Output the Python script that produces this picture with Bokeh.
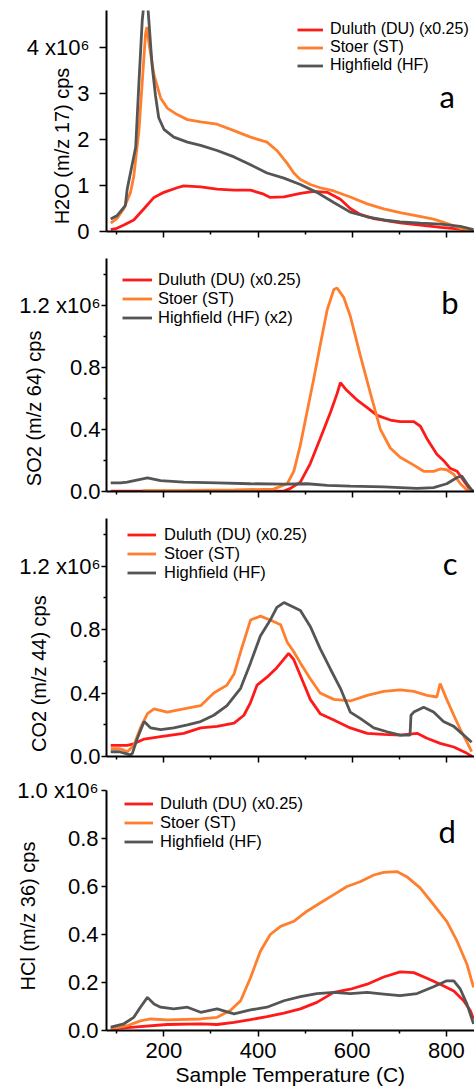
from bokeh.plotting import figure
from bokeh.models import Range1d, FixedTicker, Legend, LegendItem, Label, CustomLabelingPolicy
from bokeh.layouts import column
from bokeh.embed import file_html
from bokeh.resources import INLINE

# ---------------- data (values in units of 1e6 cps) ----------------
x_ticks = [200, 400, 600, 800]
x_minor = [100, 300, 500, 700]
x_labels = ["200", "400", "600", "800"]

names = ["Duluth (DU) (x0.25)", "Stoer (ST)", "Highfield (HF)"]
names_b = ["Duluth (DU) (x0.25)", "Stoer (ST)", "Highfield (HF) (x2)"]

# panel a : H2O
DU_a_T = [87, 100, 115, 136, 158, 179, 200, 228, 242, 278, 313, 349, 384, 412, 426, 455, 490, 518, 547, 575, 596, 617, 646, 702, 745, 788, 830, 851, 858]
DU_a = [0.04, 0.07, 0.14, 0.25, 0.5, 0.74, 0.85, 0.95, 0.99, 0.97, 0.92, 0.9, 0.9, 0.81, 0.74, 0.75, 0.83, 0.87, 0.85, 0.7, 0.5, 0.37, 0.28, 0.19, 0.14, 0.09, 0.05, 0.01, 0.0]
ST_a_T = [87, 100, 115, 129, 136, 147, 154, 161, 164, 168, 179, 193, 207, 228, 250, 278, 313, 349, 384, 419, 440, 462, 476, 490, 511, 532, 561, 596, 632, 667, 702, 738, 773, 801, 830, 858]
ST_a = [0.18, 0.28, 0.5, 0.85, 1.2, 2.2, 3.25, 4.3, 4.44, 4.1, 3.4, 2.9, 2.68, 2.54, 2.43, 2.38, 2.33, 2.19, 2.05, 1.94, 1.76, 1.48, 1.27, 1.13, 1.02, 0.95, 0.88, 0.75, 0.6, 0.49, 0.41, 0.34, 0.27, 0.18, 0.07, 0.0]
HF_a_T = [87, 100, 118, 122, 140, 147, 154, 158, 165, 170, 175, 182, 189, 200, 221, 250, 278, 313, 349, 384, 419, 455, 490, 525, 561, 596, 632, 667, 702, 745, 788, 830, 858]
HF_a = [0.27, 0.34, 0.56, 0.92, 1.83, 3.25, 4.59, 5.0, 5.0, 4.3, 3.6, 2.96, 2.47, 2.22, 2.05, 1.94, 1.87, 1.76, 1.62, 1.45, 1.27, 1.16, 1.02, 0.85, 0.63, 0.42, 0.32, 0.25, 0.21, 0.18, 0.16, 0.11, 0.04]
a_ticks = [0, 1, 2, 3, 4]
a_labels = ["0", "1", "2", "3", "4 x10\u2076"]

# panel b : SO2
DU_b_T = [87, 200, 300, 400, 455, 469, 490, 511, 532, 554, 568, 575, 589, 610, 632, 653, 681, 702, 731, 745, 759, 780, 794, 808, 823, 837, 851, 858]
DU_b = [0.003, 0.003, 0.003, 0.003, 0.003, 0.02, 0.06, 0.18, 0.34, 0.51, 0.63, 0.70, 0.65, 0.59, 0.54, 0.49, 0.46, 0.45, 0.45, 0.42, 0.34, 0.24, 0.20, 0.15, 0.13, 0.07, 0.01, 0.0]
ST_b_T = [155, 250, 350, 433, 462, 476, 490, 504, 518, 532, 547, 561, 568, 582, 596, 617, 639, 660, 681, 702, 731, 752, 773, 787, 801, 816, 830, 844, 858]
ST_b = [0.005, 0.007, 0.01, 0.015, 0.05, 0.13, 0.30, 0.51, 0.72, 0.94, 1.17, 1.30, 1.31, 1.25, 1.13, 0.88, 0.63, 0.40, 0.28, 0.22, 0.17, 0.13, 0.13, 0.145, 0.14, 0.11, 0.05, 0.01, 0.0]
HF_b_T = [87, 108, 122, 165, 193, 242, 313, 384, 455, 504, 547, 596, 667, 738, 773, 801, 823, 833, 844, 854, 860]
HF_b = [0.055, 0.056, 0.06, 0.087, 0.07, 0.06, 0.056, 0.05, 0.048, 0.05, 0.04, 0.035, 0.03, 0.02, 0.025, 0.05, 0.09, 0.10, 0.05, 0.01, 0.0]
b_ticks = [0, 0.4, 0.8, 1.2]
b_minor = [0.2, 0.6, 1.0, 1.4]
b_labels = ["0.0", "0.4", "0.8", "1.2 x10\u2076"]

# panel c : CO2
DU_c_T = [87, 105, 122, 136, 158, 193, 242, 278, 313, 349, 370, 384, 398, 419, 440, 465, 476, 490, 511, 532, 561, 596, 632, 667, 702, 738, 759, 787, 816, 844, 855]
DU_c = [0.07, 0.07, 0.07, 0.08, 0.11, 0.125, 0.146, 0.18, 0.19, 0.21, 0.26, 0.34, 0.45, 0.5, 0.56, 0.65, 0.61, 0.51, 0.36, 0.27, 0.23, 0.18, 0.146, 0.14, 0.135, 0.146, 0.115, 0.083, 0.06, 0.02, 0.0]
ST_c_T = [87, 105, 115, 122, 136, 150, 165, 179, 207, 242, 278, 306, 334, 349, 363, 384, 405, 426, 448, 462, 476, 490, 511, 532, 561, 596, 632, 667, 702, 731, 759, 780, 787, 801, 816, 830, 844, 854]
ST_c = [0.05, 0.05, 0.04, 0.03, 0.07, 0.18, 0.27, 0.30, 0.28, 0.30, 0.32, 0.40, 0.45, 0.52, 0.66, 0.86, 0.885, 0.86, 0.83, 0.72, 0.66, 0.59, 0.49, 0.40, 0.36, 0.35, 0.385, 0.41, 0.42, 0.41, 0.385, 0.375, 0.46, 0.36, 0.26, 0.17, 0.09, 0.03]
HF_c_T = [87, 105, 129, 133, 143, 158, 172, 193, 221, 250, 278, 306, 334, 363, 384, 405, 426, 440, 455, 476, 490, 511, 532, 554, 575, 596, 617, 646, 674, 702, 723, 725, 731, 752, 773, 794, 816, 837, 854]
HF_c = [0.03, 0.03, 0.01, 0.02, 0.11, 0.22, 0.18, 0.17, 0.18, 0.2, 0.22, 0.26, 0.32, 0.43, 0.59, 0.76, 0.86, 0.94, 0.97, 0.94, 0.92, 0.82, 0.68, 0.55, 0.43, 0.28, 0.24, 0.18, 0.156, 0.135, 0.135, 0.26, 0.28, 0.31, 0.28, 0.22, 0.19, 0.135, 0.09]
c_ticks = [0, 0.4, 0.8, 1.2]
c_minor = [0.2, 0.6, 1.0, 1.4]
c_labels = ["0.0", "0.4", "0.8", "1.2 x10\u2076"]

# panel d : HCl
DU_d_T = [87, 136, 207, 278, 313, 349, 384, 419, 455, 490, 525, 561, 596, 632, 667, 702, 731, 759, 787, 816, 837, 851, 858]
DU_d = [0.007, 0.014, 0.025, 0.028, 0.025, 0.034, 0.045, 0.058, 0.072, 0.09, 0.117, 0.159, 0.172, 0.193, 0.223, 0.244, 0.241, 0.218, 0.193, 0.165, 0.124, 0.083, 0.048]
ST_d_T = [87, 122, 150, 172, 207, 278, 313, 341, 363, 384, 405, 426, 448, 476, 504, 532, 561, 589, 617, 646, 667, 695, 716, 745, 773, 801, 823, 844, 858]
ST_d = [0.007, 0.02, 0.04, 0.048, 0.044, 0.048, 0.055, 0.083, 0.124, 0.22, 0.33, 0.40, 0.434, 0.455, 0.497, 0.531, 0.566, 0.60, 0.62, 0.648, 0.659, 0.662, 0.641, 0.593, 0.524, 0.455, 0.372, 0.276, 0.18]
HF_d_T = [87, 115, 136, 150, 165, 179, 193, 221, 250, 278, 313, 349, 384, 419, 455, 490, 525, 561, 596, 632, 667, 702, 738, 773, 801, 816, 830, 844, 858]
HF_d = [0.014, 0.028, 0.055, 0.097, 0.138, 0.11, 0.097, 0.09, 0.097, 0.076, 0.09, 0.069, 0.086, 0.097, 0.124, 0.141, 0.154, 0.159, 0.154, 0.159, 0.152, 0.145, 0.154, 0.182, 0.207, 0.207, 0.172, 0.11, 0.028]
d_ticks = [0, 0.2, 0.4, 0.6, 0.8, 1.0]
d_labels = ["0.0", "0.2", "0.4", "0.6", "0.8", "1.0 x10\u2076"]

RED = "#ff1a1a"
ORANGE = "#ff7f2e"
GRAY = "#555555"
FONT = "Liberation Sans"
NB = "\u00a0"

HIDE_ALL = "for (const i of Array.from(indices)) { indices.unset(i) }\nreturn indices"


def make_panel(height, top, bottom, y_end, yticks, ylabels, yminor, ylabel,
               tick_out, lab_standoff, axlab_standoff, pad, series, legend_names,
               leg_loc, glyph_w, leg_h, leg_standoff, leg_fs, letter, letter_xy,
               show_x_labels=False):
    p = figure(width=474, height=height, x_range=Range1d(78, 860),
               y_range=Range1d(0, y_end), output_backend="svg",
               toolbar_location=None, min_border_left=106, min_border_right=0,
               min_border_top=top, min_border_bottom=bottom)
    p.outline_line_color = None
    p.grid.visible = False
    p.background_fill_color = "white"

    items = []
    for (tx, vy, col), nm in zip(series, legend_names):
        r = p.line(tx, vy, line_color=col, line_width=2.8)
        items.append(LegendItem(label=nm, renderers=[r]))

    # y axis
    ya = p.yaxis[0]
    ya.ticker = FixedTicker(ticks=yticks, minor_ticks=yminor)
    ya.major_label_overrides = {t: l for t, l in zip(yticks, ylabels)}
    ya.axis_line_width = 2
    ya.axis_line_color = "black"
    ya.major_tick_out = tick_out
    ya.major_tick_in = 0
    ya.minor_tick_out = 3
    ya.minor_tick_in = 0
    ya.major_tick_line_width = 1.5
    ya.minor_tick_line_width = 1.5
    ya.major_label_standoff = lab_standoff
    ya.major_label_text_font = FONT
    ya.major_label_text_font_size = "22px"
    ya.major_label_text_color = "black"
    ya.axis_label = ylabel + NB * pad
    ya.axis_label_text_font = FONT
    ya.axis_label_text_font_size = "20px"
    ya.axis_label_text_font_style = "normal"
    ya.axis_label_text_color = "black"
    ya.axis_label_standoff = axlab_standoff

    # x axis
    xa = p.xaxis[0]
    xa.ticker = FixedTicker(ticks=x_ticks, minor_ticks=x_minor)
    xa.axis_line_width = 2
    xa.axis_line_color = "black"
    xa.major_tick_out = 6
    xa.major_tick_in = 0
    xa.minor_tick_out = 3
    xa.minor_tick_in = 0
    xa.major_tick_line_width = 1.5
    xa.minor_tick_line_width = 1.5
    if show_x_labels:
        xa.major_label_overrides = {t: l for t, l in zip(x_ticks, x_labels)}
        xa.major_label_text_font = FONT
        xa.major_label_text_font_size = "22px"
        xa.major_label_text_color = "black"
        xa.major_label_standoff = 6
        xa.axis_label = "Sample Temperature (C)"
        xa.axis_label_text_font = FONT
        xa.axis_label_text_font_size = "21px"
        xa.axis_label_text_font_style = "normal"
        xa.axis_label_text_color = "black"
        xa.axis_label_standoff = 2
    else:
        xa.major_label_policy = CustomLabelingPolicy(code=HIDE_ALL)
        xa.major_label_standoff = 0

    leg = Legend(items=items, location=leg_loc, orientation="vertical",
                 background_fill_alpha=0, border_line_alpha=0, padding=0,
                 spacing=0, margin=0, glyph_width=glyph_w, glyph_height=leg_h,
                 label_height=leg_h, label_standoff=leg_standoff,
                 label_text_font=FONT, label_text_font_size=leg_fs,
                 label_text_color="black", label_text_baseline="middle")
    p.add_layout(leg)

    p.add_layout(Label(x=letter_xy[0], y=letter_xy[1], text=letter,
                       text_font="Lato", text_font_size="31px",
                       text_align="center", text_baseline="middle",
                       text_color="black"))
    return p


pa = make_panel(248, 10, 11, 4.8, a_ticks, a_labels, [], "H2O (m/z 17) cps",
                7, 10, -49, 9,
                [(DU_a_T, DU_a, RED), (ST_a_T, ST_a, ORANGE), (HF_a_T, HF_a, GRAY)],
                names, (191, 157), 26, 17, 7, "16px", "a", (802, 2.94))
pb = make_panel(260, 10, 10, 1.5, b_ticks, b_labels, b_minor, "SO2 (m/z 64) cps",
                5, 1, -29, 12,
                [(DU_b_T, DU_b, RED), (ST_b_T, ST_b, ORANGE), (HF_b_T, HF_b, GRAY)],
                names_b, (16, 164), 30, 19, 6, "16.5px", "b", (808, 1.22))
pc = make_panel(265, 10, 15, 1.5, c_ticks, c_labels, c_minor, "CO2 (m/z 44) cps",
                5, 1, -34, 13,
                [(DU_c_T, DU_c, RED), (ST_c_T, ST_c, ORANGE), (HF_c_T, HF_c, GRAY)],
                names, (21, 174), 29, 19, 8, "16.5px", "c", (808, 1.22))
pd_ = make_panel(317, 17, 60, 1.0, d_ticks, d_labels, [], "HCl (m/z 36) cps",
                 5, 3, -25, 2,
                 [(DU_d_T, DU_d, RED), (ST_d_T, ST_d, ORANGE), (HF_d_T, HF_d, GRAY)],
                 names, (18, 179), 29, 19, 7, "16.5px", "d", (802, 0.83),
                 show_x_labels=True)

layout = column(pa, pb, pc, pd_, spacing=0)
open("out.html", "w").write(file_html(layout, INLINE))
